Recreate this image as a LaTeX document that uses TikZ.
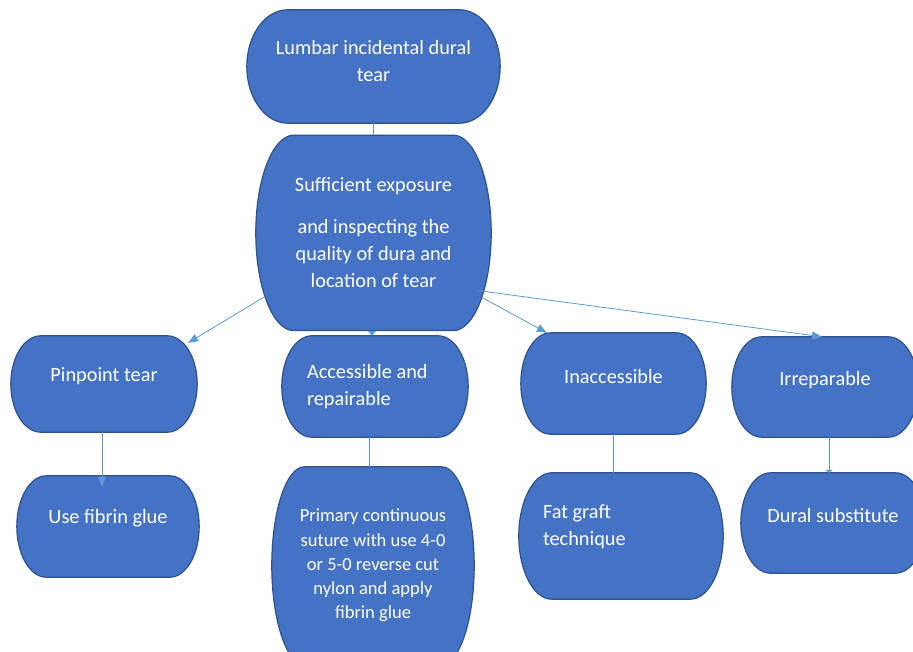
\documentclass[tikz,border=0pt]{standalone}
\usepackage{fontspec}
\setmainfont{Carlito}
\usetikzlibrary{arrows.meta,positioning,calc}
\definecolor{BoxBlue}{HTML}{4472C4}
\definecolor{BoxEdge}{HTML}{2F528F}
\definecolor{LinkBlue}{HTML}{5B9BD5}
\newcommand{\tailspace}[1]{\rule[-#1]{0pt}{0pt}}
\pgfdeclarelayer{background}
\pgfsetlayers{background,main}

\begin{document}
\begin{tikzpicture}[x=1pt,y=-1pt,
    node distance=12pt and 12pt,
    flowbox/.style={inner sep=0pt,align=center,text=white,
      font=\fontsize{20.3}{27}\selectfont},
    termshape/.style={fill=BoxBlue,draw=BoxEdge,line width=1.2pt},
    link/.style={draw=LinkBlue,line width=0.8pt},
    arr/.style={link,-{Triangle[length=10pt,width=8pt]}}
  ]
    \useasboundingbox (0,0) rectangle (913,652);
    \node[flowbox,minimum width=253pt,minimum height=113pt] (lumbar) at (373.5,66.5) {Lumbar incidental dural\\tear\tailspace{12pt}};
    \node[flowbox,minimum width=235pt,minimum height=195pt,below=12pt of lumbar] (exposure) {Sufficient exposure\\[15pt]and inspecting the\\quality of dura and\\location of tear};
    \node[flowbox,minimum width=186pt,minimum height=96pt] (pin) at (104,384) {Pinpoint tear\tailspace{18pt}};
    \node[flowbox,minimum width=186pt,minimum height=101pt,text width=136pt,align=flush left] (acc) at (375,386.5) {Accessible and\\repairable};
    \node[flowbox,minimum width=185pt,minimum height=101pt] (inacc) at (613.5,383.5) {Inaccessible\tailspace{15pt}};
    \node[flowbox,minimum width=186pt,minimum height=100pt] (irr) at (825,387) {Irreparable\tailspace{18pt}};
    \node[flowbox,minimum width=182pt,minimum height=101pt] (glue) at (108,526.5) {Use fibrin glue\tailspace{20pt}};
    \node[flowbox,minimum width=202pt,minimum height=197pt,
      font=\fontsize{18.5}{24.3}\selectfont] (primary) at (373,565.5) {Primary continuous\\suture with use 4-0\\or 5-0 reverse cut\\nylon and apply\\fibrin glue};
    \node[flowbox,minimum width=204pt,minimum height=126pt,text width=156pt,align=flush left] (fat) at (621,536) {Fat graft\\technique\tailspace{22pt}};
    \node[flowbox,minimum width=184pt,minimum height=100pt] (dural) at (833,523) {Dural substitute\tailspace{16pt}};

    % terminator outlines behind the text
    \begin{pgfonlayer}{background}
      \clip (0,0) rectangle (913,652);
      \foreach \b in {lumbar,exposure,pin,acc,inacc,irr,glue,primary,fat,dural}
        \path[termshape] ($(\b.north west)!0.161!(\b.north east)$) -- ($(\b.north west)!0.839!(\b.north east)$)
          .. controls ($(\b.north west)!0.928!(\b.north east)$) and ($(\b.east)!0.552!(\b.north east)$) .. (\b.east)
          .. controls ($(\b.east)!0.552!(\b.south east)$) and ($(\b.south west)!0.928!(\b.south east)$) .. ($(\b.south west)!0.839!(\b.south east)$)
          -- ($(\b.south west)!0.161!(\b.south east)$)
          .. controls ($(\b.south west)!0.072!(\b.south east)$) and ($(\b.west)!0.552!(\b.south west)$) .. (\b.west)
          .. controls ($(\b.west)!0.552!(\b.north west)$) and ($(\b.north west)!0.072!(\b.north east)$) .. ($(\b.north west)!0.161!(\b.north east)$)
          -- cycle;
    \end{pgfonlayer}

    \draw[link] (lumbar) -- (exposure);
    \draw[arr] ([xshift=9pt,yshift=34pt]exposure.south west) -- ([xshift=-9pt,yshift=-7pt]pin.north east);
    \draw[link,-{Triangle[length=5pt,width=8pt]}] ([xshift=-1.5pt]exposure.south) -- ([xshift=-1.5pt]exposure.south |- acc.north);
    \draw[arr] ([xshift=-9pt,yshift=33pt]exposure.south east) -- ([xshift=26pt]inacc.north west);
    \draw[arr] ([xshift=-13pt,yshift=40pt]exposure.south east) -- ([xshift=-3pt]irr.north);
    \draw[arr] ([xshift=-2pt]pin.south) -- ([xshift=-6pt,yshift=-11pt]glue.north);
    \draw[link] ([xshift=-6pt]acc.south) -- ([xshift=-6pt]acc.south |- primary.north);
    \draw[link] (inacc.south) -- (inacc.south |- fat.north);
    \draw[link,-{Triangle[length=3pt,width=7pt]}] ([xshift=4pt]irr.south) -- ([xshift=4pt]irr.south |- dural.north);
  \end{tikzpicture}
\end{document}
